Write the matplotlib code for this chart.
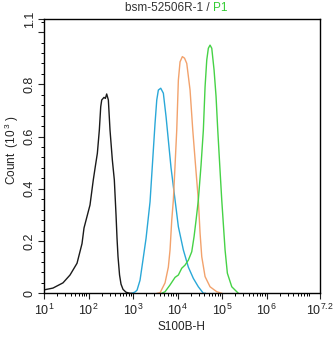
import matplotlib
matplotlib.use("Agg")
import matplotlib.pyplot as plt
from matplotlib.ticker import LogLocator, NullFormatter, FixedLocator, MultipleLocator

plt.rcParams['font.family'] = ['Liberation Sans', 'DejaVu Sans']
plt.rcParams['mathtext.fontset'] = 'custom'
plt.rcParams['mathtext.rm'] = 'Liberation Sans'
plt.rcParams['mathtext.it'] = 'Liberation Sans'

# Histogram traces: fluorescence intensity (S100B-H) vs. count (x10^3)
control_x = [10, 15.9, 26.7, 38.4, 55.2, 71.4, 79.2, 108, 128, 142, 158, 175, 188, 198,
             223, 239, 256, 279, 304, 343, 380, 415, 437, 460, 498, 537, 596, 697, 857, 950]
control_y = [0.013, 0.02, 0.04, 0.07, 0.115, 0.19, 0.25, 0.338, 0.434, 0.485, 0.536, 0.625,
             0.714, 0.74, 0.75, 0.746, 0.763, 0.74, 0.625, 0.51, 0.434, 0.30, 0.21, 0.14,
             0.07, 0.035, 0.015, 0.004, 0.0, 0.0]

blue_x = [950, 1109, 1230, 1436, 1679, 1960, 2173, 2410, 2742, 3119, 3412, 3707, 4191,
          4797, 5518, 5902, 7144, 8790, 10430, 13500, 17500, 22650, 29310, 38000, 42000]
blue_y = [0.0, 0.005, 0.012, 0.05, 0.13, 0.21, 0.28, 0.35, 0.50, 0.65, 0.74, 0.778, 0.785,
          0.766, 0.676, 0.625, 0.48, 0.357, 0.255, 0.166, 0.10, 0.057, 0.025, 0.0, 0.0]

orange_x = [3500, 4045, 5236, 6209, 6780, 7410, 8050, 8790, 9590, 10430, 11380, 12820,
            14360, 16100, 19100, 21970, 25350, 29310, 32060, 34990, 41500, 53700, 76000, 98400]
orange_y = [0.0, 0.002, 0.04, 0.10, 0.166, 0.28, 0.357, 0.49, 0.625, 0.816, 0.886, 0.906,
            0.90, 0.88, 0.778, 0.625, 0.49, 0.357, 0.23, 0.14, 0.064, 0.025, 0.006, 0.0]

green_x = [4415, 5236, 6780, 8790, 10430, 12420, 14750, 17500, 20840, 23500, 26060, 29310,
           33700, 38000, 41500, 45300, 49200, 53700, 58700, 66100, 73300, 80000, 88700,
           98400, 116800, 131500, 165200, 232300]
green_y = [0.0, 0.006, 0.032, 0.061, 0.07, 0.096, 0.108, 0.127, 0.159, 0.217, 0.28, 0.357,
           0.49, 0.625, 0.79, 0.893, 0.938, 0.95, 0.938, 0.855, 0.753, 0.625, 0.49, 0.357,
           0.166, 0.077, 0.025, 0.0]

x_tick_vals = [1e1, 1e2, 1e3, 1e4, 1e5, 1e6, 10 ** 7.2]
x_tick_labels = [r'$\mathregular{10^{1}}$', r'$\mathregular{10^{2}}$', r'$\mathregular{10^{3}}$',
                 r'$\mathregular{10^{4}}$', r'$\mathregular{10^{5}}$', r'$\mathregular{10^{6}}$',
                 r'$\mathregular{10^{7.2}}$']
y_tick_vals = [0, 0.2, 0.4, 0.6, 0.8, 1.0, 1.05]
y_tick_labels = ['0', '0.2', '0.4', '0.6', '0.8', '', '1.1']

fig = plt.figure(figsize=(3.34, 3.37), dpi=100)
ax = fig.add_axes([44 / 334, 1 - 293.3 / 337, 276 / 334, (293.3 - 19) / 337])

lw = 1.0
ax.plot(control_x, control_y, color='#1a1a1a', lw=lw)
ax.plot(blue_x, blue_y, color='#2aa8d8', lw=lw)
ax.plot(orange_x, orange_y, color='#f2a26c', lw=lw)
ax.plot(green_x, green_y, color='#46d246', lw=lw)

ax.set_xscale('log')
ax.set_xlim(1e1, 10 ** 7.2)
ax.set_ylim(0, 1.05)

ax.xaxis.set_major_locator(FixedLocator(x_tick_vals))
ax.set_xticklabels(x_tick_labels)
ax.xaxis.set_minor_locator(LogLocator(base=10, subs=range(2, 10), numticks=20))
ax.xaxis.set_minor_formatter(NullFormatter())

ax.yaxis.set_major_locator(FixedLocator(y_tick_vals))
ax.set_yticklabels(y_tick_labels, rotation=90, va='center')
ax.yaxis.set_minor_locator(MultipleLocator(0.04))

ax.tick_params(which='major', direction='out', length=4.5, width=0.8, labelsize=9,
               pad=2, colors='#222222')
ax.tick_params(which='minor', direction='out', length=2.5, width=0.7)
ax.tick_params(axis='y', pad=1.5)
for s in ax.spines.values():
    s.set_linewidth(1.0)
    s.set_color('black')

fig.text(44 / 334 - 32 / 334, 1 - 150 / 337, r'Count  (10$^{\,3}$ )', rotation=90,
         ha='center', va='center', fontsize=8.5, color='#222222')
fig.text(181 / 334, 1 - 327 / 337, 'S100B-H', ha='center', va='center',
         fontsize=8.5, color='#222222')

fig.text(210 / 334, 1 - 8 / 337, 'bsm-52506R-1 /', ha='right', va='center',
         fontsize=8.5, color='#333333')
fig.text(213 / 334, 1 - 8 / 337, 'P1', ha='left', va='center',
         fontsize=8.5, color='#33cc33')

fig.savefig('out.png', dpi=100)
